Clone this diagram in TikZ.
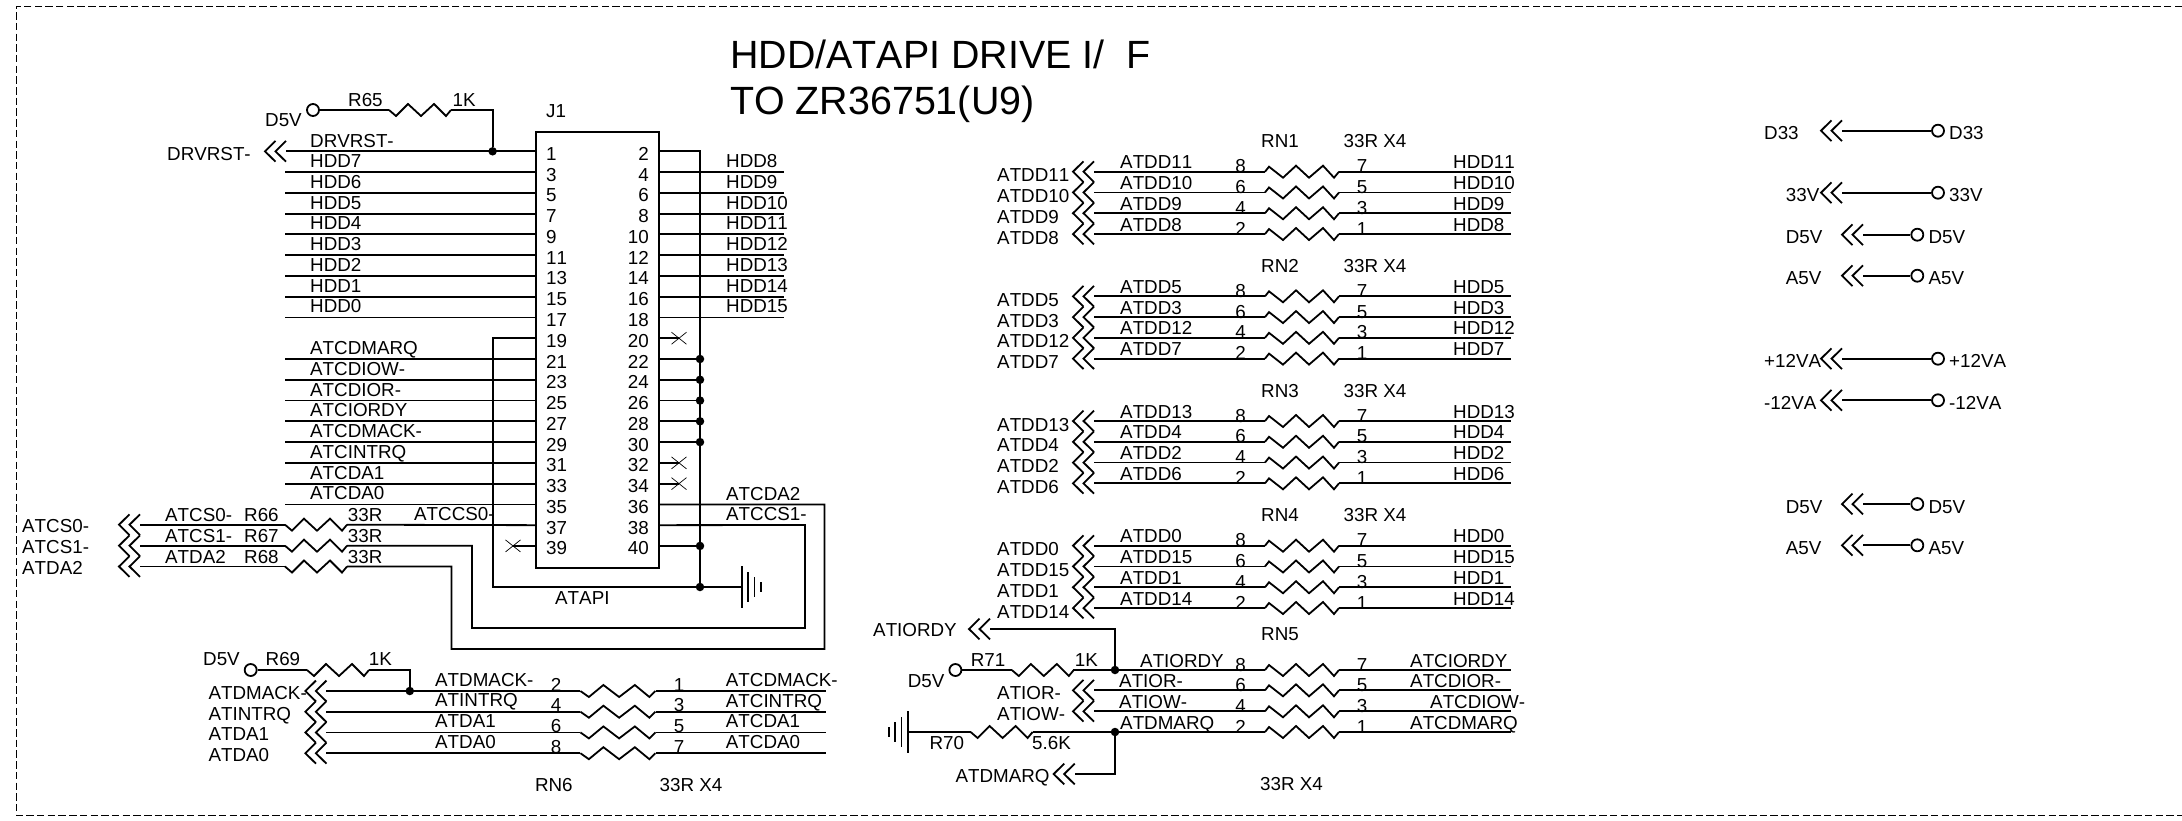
\documentclass[tikz,border=0pt]{standalone}
\usepackage{fontspec}
\usetikzlibrary{calc}
\setmainfont[Kerning=Off]{Liberation Sans}
\newcommand{\schfont}{\fontsize{18.8}{20}\selectfont}
\tikzset{
  wire/.style={line width=1.8pt},
  lbl/.style={anchor=base west, inner sep=0pt, font=\schfont},
  pinr/.style={anchor=base east, inner sep=0pt, font=\schfont},
  pinc/.style={anchor=base, inner sep=0pt, font=\schfont},
  junction/.style={circle, fill=black, inner sep=0pt, minimum size=8.5pt},
  term/.style={circle, draw, line width=1.8pt, inner sep=0pt, minimum size=12pt},
  chev/.pic={\draw[wire] (0,-10.4) -- (-10.5,0) -- (0,10.4) (-10.5,-10.4) -- (-21,0) -- (-10.5,10.4);},
  resdn/.pic={\draw[wire] (0,0) -- (7,6) -- (19,-6) -- (32,6) -- (45,-6) -- (57,6) -- (62,0);},
  resup/.pic={\draw[wire] (0,0) -- (4,-5) -- (18,6) -- (31,-6) -- (44,6) -- (58,-6) -- (69,6) -- (74,0);},
  earth/.pic={\draw[wire] (0,-21) -- (0,21) (6.2,-15) -- (6.2,15) (12.4,-10) -- (12.4,10) (18.6,-5) -- (18.6,5);},
  nc/.pic={\draw[line width=0.7pt] (-7.5,-6) -- (7.5,6) (-7.5,6) -- (7.5,-6);},
}

\begin{document}
\begin{tikzpicture}[x=1pt,y=-1pt]
    \useasboundingbox (0,0) rectangle (2182,820);
    \draw[line width=1pt, dash pattern=on 7.5pt off 3.2pt] (2182,6) -- (16,6) -- (16,815) -- (2182,815);

    \node[lbl, font=\fontsize{39.4}{44}\selectfont] (title1) at (730,68) {HDD/ATAPI DRIVE I/\ \ F};
    \node[lbl, font=\fontsize{39.4}{44}\selectfont] (title2) at (730,114) {TO ZR36751(U9)};

    % J1
    \node[draw, wire, anchor=north west, minimum width=123pt, minimum height=436pt] (J1) at (535,131) {};
    \node[lbl] (J1name) at (546,117) {J1};
    \node[lbl] (J1type) at (555,604) {ATAPI};
    \foreach \k in {0,...,19} {
      \pgfmathsetmacro{\yy}{151.3+20.77*\k}
      \pgfmathtruncatemacro{\pa}{2*\k+1}
      \pgfmathtruncatemacro{\pb}{2*\k+2}
      \coordinate (pl\k) at (535,\yy);
      \coordinate (pr\k) at (658,\yy);
      \coordinate (bus\k) at (700,\yy);
      \node[lbl] (numl\k) at (546,\yy+9) {\pa};
      \node[pinr] (numr\k) at (649,\yy+9) {\pb};
    }

    % left side of J1
    \foreach \k/\sig in {1/HDD7,2/HDD6,3/HDD5,4/HDD4,5/HDD3,6/HDD2,7/HDD1,8/HDD0,
        10/ATCDMARQ,11/ATCDIOW-,12/ATCDIOR-,13/ATCIORDY,14/ATCDMACK-,15/ATCINTRQ,16/ATCDA1,17/ATCDA0} {
      \pgfmathsetmacro{\yy}{151.3+20.77*\k}
      \coordinate (ls\k) at (285,\yy);
      \node[lbl] (ln\k) at (310,\yy-4.5) {\sig};
      \draw[wire] (ls\k) -- (pl\k);
    }

    % right side of J1
    \foreach \k/\sig in {1/HDD8,2/HDD9,3/HDD10,4/HDD11,5/HDD12,6/HDD13,7/HDD14,8/HDD15} {
      \pgfmathsetmacro{\yy}{151.3+20.77*\k}
      \coordinate (rs\k) at (784,\yy);
      \node[lbl] (hn\k) at (726,\yy-4.5) {\sig};
      \draw[wire] (pr\k) -- (rs\k);
    }
    \foreach \k in {9,15,16} {
      \coordinate (ncr\k) at ($(pr\k)+(21,0)$);
      \pic at (ncr\k) {nc};
      \draw[wire] (pr\k) -- (ncr\k);
    }
    \foreach \k in {10,...,14,19} {
      \node[junction] (jd\k) at (bus\k) {};
      \draw[wire] (pr\k) -- (jd\k);
    }

    % ground bus
    \coordinate (gndr) at (492.6,587);
    \node[junction] (gndj) at (700,587) {};
    \coordinate (gnde) at (742,587);
    \pic at (gnde) {earth};
    \draw[wire] (pr0) -- (bus0) -- (gndj) -- (gnde);
    \draw[wire] (pl9) -| (gndr) -- (gndj);
    \coordinate (ncl) at (513,545.9);
    \pic at (ncl) {nc};
    \draw[wire] (pl19) -- (ncl);

    % reset
    \node[term] (t65) at (313,110) {};
    \node[lbl] (d5v65) at (265,126.7) {D5V};
    \node[lbl] (r65) at (348,106) {R65};
    \node[lbl] (v65) at (452.5,106) {1K};
    \coordinate (r65a) at (389,110);
    \coordinate (r65b) at (451,110);
    \coordinate (r65c) at (492.6,110);
    \pic at (r65a) {resdn};
    \node[junction] (j65) at (492.6,151.3) {};
    \draw[wire] (t65) -- (r65a);
    \draw[wire] (r65b) -- (r65c) -- (j65);
    \coordinate (rstc) at (286,151.3);
    \pic at (rstc) {chev};
    \draw[wire] (rstc) -- (pl0);
    \node[lbl] (rstl) at (167,160) {DRVRST-};
    \node[lbl] (rsti) at (310,147.7) {DRVRST-};

    % R66 R67 R68
    \foreach \i/\yy/\sig in {66/524.7/ATCS0-,67/545.7/ATCS1-,68/566.5/ATDA2} {
      \coordinate (c\i) at (140,\yy);
      \coordinate (a\i) at (285,\yy);
      \coordinate (b\i) at (347,\yy);
      \pic at (c\i) {chev};
      \pic at (a\i) {resdn};
      \draw[wire] (c\i) -- (a\i);
      \node[lbl] (s\i) at (22,\yy+8) {\sig};
      \node[lbl] (t\i) at (165,\yy-3.5) {\sig};
      \node[lbl] (r\i) at (244,\yy-3.5) {R\i};
      \node[lbl] (v\i) at (347.7,\yy-3.5) {33R};
    }
    \node[lbl] (atccs0) at (414,520.7) {ATCCS0-};
    \node[lbl] (atcda2) at (726,500) {ATCDA2};
    \node[lbl] (atccs1) at (726,520.7) {ATCCS1-};
    \draw[wire] (b66) -- (pl18);
    \coordinate (p38a) at (805,525);
    \coordinate (p38b) at (805,628);
    \coordinate (p38c) at (472,628);
    \coordinate (p38d) at (472,545.7);
    \draw[wire] (pr18) -- (p38a) -- (p38b) -- (p38c) -- (p38d) -- (b67);
    \coordinate (p36a) at (824.5,504.4);
    \coordinate (p36b) at (824.5,649);
    \coordinate (p36c) at (451.5,649);
    \coordinate (p36d) at (451.5,566.5);
    \draw[wire] (pr17) -- (p36a) -- (p36b) -- (p36c) -- (p36d) -- (b68);

    % RN6
    \node[term] (t69) at (250.7,670) {};
    \node[lbl] (d5v69) at (203,665.7) {D5V};
    \node[lbl] (r69) at (265.5,665.7) {R69};
    \node[lbl] (v69) at (368.6,665.7) {1K};
    \coordinate (r69a) at (307,670);
    \coordinate (r69b) at (368.6,670);
    \coordinate (r69c) at (409.8,670);
    \pic at (r69a) {resdn};
    \node[junction] (j69) at (409.8,691) {};
    \draw[wire] (t69) -- (r69a);
    \draw[wire] (r69b) -- (r69c) -- (j69);
    \foreach \i/\yy/\sig/\hdd/\pa/\pb in {0/691/ATDMACK-/ATCDMACK-/2/1,1/711.7/ATINTRQ/ATCINTRQ/4/3,
        2/732.4/ATDA1/ATCDA1/6/5,3/753.2/ATDA0/ATCDA0/8/7} {
      \coordinate (c6\i) at (326.4,\yy);
      \coordinate (a6\i) at (580.4,\yy);
      \coordinate (b6\i) at (655.5,\yy);
      \coordinate (e6\i) at (825.5,\yy);
      \pic at (c6\i) {chev};
      \pic[xscale=1.21] at (a6\i) {resdn};
      \draw[wire] (c6\i) -- (a6\i) (b6\i) -- (e6\i);
      \node[lbl] (l6\i) at (208.4,\yy+8.5) {\sig};
      \node[lbl] (m6\i) at (435,\yy-5) {\sig};
      \node[pinc] (p6\i) at (556,\yy) {\pa};
      \node[pinc] (q6\i) at (679,\yy) {\pb};
      \node[lbl] (h6\i) at (725.7,\yy-4.5) {\hdd};
    }
    \node[lbl] (rn6) at (534.8,791.7) {RN6};
    \node[lbl] (rn6v) at (659.4,791.7) {33R X4};

    % RN1 to RN4
    \foreach \blk/\ytop/\sigs in {1/171.7/{ATDD11/HDD11,ATDD10/HDD10,ATDD9/HDD9,ATDD8/HDD8},
        2/296.3/{ATDD5/HDD5,ATDD3/HDD3,ATDD12/HDD12,ATDD7/HDD7},
        3/421/{ATDD13/HDD13,ATDD4/HDD4,ATDD2/HDD2,ATDD6/HDD6},
        4/545.7/{ATDD0/HDD0,ATDD15/HDD15,ATDD1/HDD1,ATDD14/HDD14}} {
      \node[lbl] (rn\blk) at (1261,\ytop-24) {RN\blk};
      \node[lbl] (val\blk) at (1343.5,\ytop-24) {33R X4};
      \foreach \sig/\hdd [count=\i from 0] in \sigs {
        \pgfmathsetmacro{\yy}{\ytop+20.77*\i}
        \pgfmathtruncatemacro{\pa}{8-2*\i}
        \pgfmathtruncatemacro{\pb}{7-2*\i}
        \coordinate (c\blk\i) at (1094,\yy);
        \coordinate (a\blk\i) at (1265,\yy);
        \coordinate (b\blk\i) at (1339,\yy);
        \coordinate (e\blk\i) at (1510.5,\yy);
        \pic at (c\blk\i) {chev};
        \pic at (a\blk\i) {resup};
        \draw[wire] (c\blk\i) -- (a\blk\i) (b\blk\i) -- (e\blk\i);
        \node[lbl] (l\blk\i) at (997,\yy+10) {\sig};
        \node[lbl] (m\blk\i) at (1120,\yy-3) {\sig};
        \node[pinc] (p\blk\i) at (1240.7,\yy+1) {\pa};
        \node[pinc] (q\blk\i) at (1362,\yy+1) {\pb};
        \node[lbl] (h\blk\i) at (1453,\yy-3) {\hdd};
      }
    }

    % RN5
    \node[lbl] (rn5) at (1261,640) {RN5};
    \node[lbl] (val5) at (1260,790.7) {33R X4};
    \foreach \i/\yy/\sig/\mx/\hdd/\hx/\pa/\pb in {0/670/ATIORDY/1140/ATCIORDY/1410/8/7,1/690.3/ATIOR-/1119/ATCDIOR-/1410/6/5,
        2/711.3/ATIOW-/1119/ATCDIOW-/1430/4/3,3/732/ATDMARQ/1120/ATCDMARQ/1410/2/1} {
      \coordinate (c5\i) at (1094,\yy);
      \coordinate (a5\i) at (1265,\yy);
      \coordinate (b5\i) at (1339,\yy);
      \coordinate (e5\i) at (1510.5,\yy);
      \pic at (a5\i) {resup};
      \draw[wire] (b5\i) -- (e5\i);
      \node[lbl] (m5\i) at (\mx,\yy-3) {\sig};
      \node[pinc] (p5\i) at (1240.7,\yy+1) {\pa};
      \node[pinc] (q5\i) at (1362,\yy+1) {\pb};
      \node[lbl] (h5\i) at (\hx,\yy-3) {\hdd};
    }
    \foreach \i/\sig in {1/ATIOR-,2/ATIOW-} {
      \pic at (c5\i) {chev};
      \draw[wire] (c5\i) -- (a5\i);
      \path (c5\i) ++(-97,9) node[lbl] (l5\i) {\sig};
    }
    \node[junction] (j71) at (1115,670) {};
    \node[junction] (j70) at (1115,732) {};
    \draw[wire] (j71) -- (a50) (j70) -- (a53);

    \coordinate (cry) at (990,629);
    \coordinate (cryb) at (1115,629);
    \pic at (cry) {chev};
    \draw[wire] (cry) -- (cryb) -- (j71);
    \node[lbl] (atiordy) at (873,636.7) {ATIORDY};
    \node[term] (t71) at (955.4,670) {};
    \node[lbl] (d5v71) at (907.7,687) {D5V};
    \node[lbl] (r71) at (970.6,666) {R71};
    \node[lbl] (v71) at (1074.7,666) {1K};
    \coordinate (r71a) at (1011.8,670);
    \coordinate (r71b) at (1073.4,670);
    \pic at (r71a) {resdn};
    \draw[wire] (t71) -- (r71a) (r71b) -- (j71);

    \coordinate (g70) at (907.7,732);
    \pic[xscale=-1] at (g70) {earth};
    \coordinate (r70a) at (970.6,732);
    \coordinate (r70b) at (1032.6,732);
    \pic at (r70a) {resdn};
    \draw[wire] (g70) -- (r70a) (r70b) -- (j70);
    \node[lbl] (r70) at (929.4,749) {R70};
    \node[lbl] (v70) at (1032,749) {5.6K};
    \coordinate (cmq) at (1074.7,774);
    \coordinate (cmqb) at (1115,774);
    \pic at (cmq) {chev};
    \draw[wire] (j70) -- (cmqb) -- (cmq);
    \node[lbl] (atdmarq) at (955.4,782) {ATDMARQ};

    % power rails
    \foreach \i/\yy/\tx/\cx/\ox/\sig in {1/130.7/1764/1842/1938/D33,2/192.7/1785.7/1842/1938/33V,
        3/234.7/1785.7/1863/1917.3/D5V,4/275.7/1785.7/1863/1917.3/A5V,
        5/358.7/1764/1842/1938/+12VA,6/400.3/1764/1842/1938/-12VA,
        7/504/1785.7/1863/1917.3/D5V,8/545.3/1785.7/1863/1917.3/A5V} {
      \coordinate (pwc\i) at (\cx,\yy);
      \node[term] (pwo\i) at (\ox,\yy) {};
      \pic at (pwc\i) {chev};
      \draw[wire] (pwc\i) -- (pwo\i);
      \node[lbl] (pwl\i) at (\tx,\yy+9) {\sig};
      \node[lbl] (pwt\i) at (\ox+11,\yy+9) {\sig};
    }
\end{tikzpicture}
\end{document}
